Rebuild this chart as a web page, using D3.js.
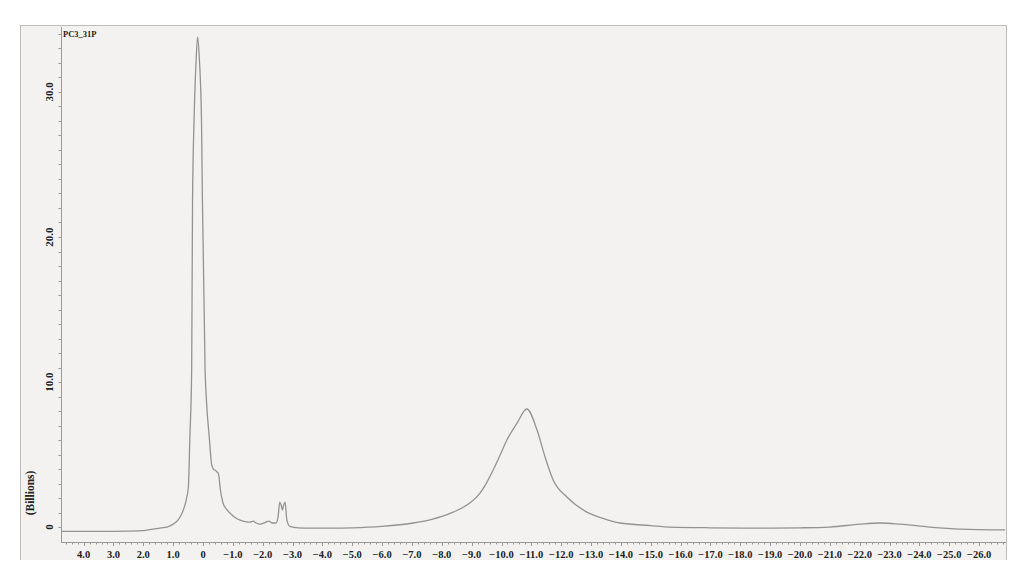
<!DOCTYPE html>
<html>
<head>
<meta charset="utf-8">
<script src="https://cdn.jsdelivr.net/npm/d3@7"></script>
<style>
  html, body { margin: 0; padding: 0; background: #ffffff; }
  svg { display: block; }
  text { font-family: "Liberation Serif", "DejaVu Serif", serif; font-weight: bold; fill: #222; }
</style>
</head>
<body>
<svg id="chart" width="1024" height="584"></svg>
<script>
// ---- data ----
const title = "PC3_31P";
const yAxisLabel = "(Billions)";
const ppm = [4.75, 3.5, 2.5, 2.0, 1.68, 1.4, 1.21, 1.0, 0.84, 0.74, 0.66, 0.56, 0.49, 0.44, 0.38, 0.35, 0.30, 0.23, 0.18,
  0.12, 0.05, 0.02, -0.07, -0.12, -0.21, -0.29, -0.35, -0.42, -0.47, -0.51, -0.54, -0.57, -0.67, -0.78, -0.90, -1.05,
  -1.24, -1.45, -1.57, -1.68, -1.78, -1.91, -2.08, -2.21, -2.31, -2.45, -2.52, -2.57, -2.62, -2.66, -2.70, -2.75, -2.81,
  -2.91, -3.2, -3.58, -4.25, -5.0, -6.0, -7.04, -7.6, -8.38, -8.9, -9.28, -9.5, -9.72, -9.95, -10.18, -10.52, -10.85,
  -11.19, -11.46, -11.73, -12.19, -12.86, -13.4, -13.97, -15.0, -15.64, -17.0, -18.66, -20.0, -21.0, -22.0, -22.7,
  -23.35, -24.35, -25.36, -26.87];
const intensity = [-0.3, -0.3, -0.28, -0.25, -0.14, -0.05, 0.0, 0.2, 0.48, 0.8, 1.17, 1.9, 2.76, 6.2, 10.8, 22.6, 28.0, 32.2, 33.8,
  32.2, 28.0, 22.6, 10.8, 8.55, 6.2, 4.3, 4.0, 3.9, 3.8, 3.72, 3.4, 2.76, 1.66, 1.25, 0.97, 0.7,
  0.48, 0.36, 0.34, 0.41, 0.28, 0.2, 0.31, 0.41, 0.28, 0.28, 0.8, 1.72, 1.5, 1.17, 1.5, 1.72, 0.48,
  0.05, -0.05, -0.07, -0.07, -0.05, 0.05, 0.28, 0.5, 1.03, 1.6, 2.34, 3.05, 3.93, 4.95, 6.0, 7.17, 8.14,
  6.69, 4.83, 3.24, 2.07, 1.03, 0.6, 0.28, 0.1, 0.0, -0.05, -0.07, -0.05, 0.0, 0.2, 0.28,
  0.2, 0.0, -0.14, -0.2];
const xMajorTicks = d3.range(4, -27, -1);
const yMajorTicks = [0, 10, 20, 30];
const xTickLabel = v => v === 0 ? "0" : (v < 0 ? "\u2212" + Math.abs(v).toFixed(1) : v.toFixed(1));
const yTickLabel = v => v === 0 ? "0" : v.toFixed(1);

// ---- layout ----
const svg = d3.select("#chart");
const frame = { left: 20, top: 25, right: 1007, bottom: 560 };
const plot = { left: 61, top: 27, right: 1006, bottom: 542 };

const x = d3.scaleLinear().domain([4.757, -26.9]).range([plot.left, plot.right]);
const y = d3.scaleLinear().domain([-1.03, 34.48]).range([plot.bottom, plot.top]);

// paper background
svg.append("rect")
  .attr("x", frame.left).attr("y", frame.top)
  .attr("width", frame.right - frame.left).attr("height", frame.bottom - frame.top)
  .attr("fill", "#f3f2f0");

// frame lines
const lineCol = "#bdbcb8";
svg.append("line").attr("x1", frame.left).attr("x2", frame.right).attr("y1", frame.top + 0.5).attr("y2", frame.top + 0.5)
  .attr("stroke", lineCol).attr("stroke-width", 1);
svg.append("line").attr("x1", frame.left + 0.5).attr("x2", frame.left + 0.5).attr("y1", frame.top).attr("y2", frame.bottom)
  .attr("stroke", lineCol).attr("stroke-width", 1);
svg.append("line").attr("x1", plot.right + 0.5).attr("x2", plot.right + 0.5).attr("y1", frame.top).attr("y2", frame.bottom)
  .attr("stroke", lineCol).attr("stroke-width", 1);

// y axis
const yAxisG = svg.append("g").attr("transform", `translate(${plot.left},0)`);
yAxisG.append("line").attr("x1", 0.5).attr("x2", 0.5).attr("y1", plot.top).attr("y2", plot.bottom)
  .attr("stroke", "#9a9995").attr("stroke-width", 1);
yAxisG.selectAll("line.minor").data(d3.range(0, 35, 1)).join("line")
  .attr("class", "minor")
  .attr("x1", -2.5).attr("x2", 0.5)
  .attr("y1", d => Math.round(y(d)) + 0.5).attr("y2", d => Math.round(y(d)) + 0.5)
  .attr("stroke", "#9a9995").attr("stroke-width", 1);
yAxisG.selectAll("text.ylab").data(yMajorTicks).join("text")
  .attr("class", "ylab")
  .attr("transform", d => `translate(-8,${y(d)}) rotate(-90)`)
  .attr("text-anchor", "middle")
  .attr("font-size", 11)
  .text(yTickLabel);

// y axis title
svg.append("text")
  .attr("transform", `translate(34,493) rotate(-90)`)
  .attr("text-anchor", "middle")
  .attr("font-size", 11.5)
  .text(yAxisLabel);

// x axis
const xAxisG = svg.append("g").attr("transform", `translate(0,${plot.bottom})`);
xAxisG.append("line").attr("x1", plot.left).attr("x2", plot.right).attr("y1", 0.5).attr("y2", 0.5)
  .attr("stroke", "#9a9995").attr("stroke-width", 1);
const minorX = d3.range(46, -269, -2).map(d => d / 10);
xAxisG.selectAll("line.minor").data(minorX).join("line")
  .attr("class", "minor")
  .attr("x1", d => Math.round(x(d)) + 0.5).attr("x2", d => Math.round(x(d)) + 0.5)
  .attr("y1", 0.5).attr("y2", d => Number.isInteger(d) ? 4 : 2.5)
  .attr("stroke", "#9a9995").attr("stroke-width", 1);
xAxisG.selectAll("text.xlab").data(xMajorTicks).join("text")
  .attr("class", "xlab")
  .attr("x", d => x(d))
  .attr("y", 16)
  .attr("text-anchor", "middle")
  .attr("font-size", 10.5)
  .text(xTickLabel);

// title
svg.append("text").attr("x", 63).attr("y", 37).attr("font-size", 8.5).text(title);

// spectrum line
const pts = ppm.map((p, i) => [p, intensity[i]]);
const line = d3.line().x(d => x(d[0])).y(d => y(d[1])).curve(d3.curveMonotoneX);
svg.append("path")
  .datum(pts)
  .attr("d", line)
  .attr("fill", "none")
  .attr("stroke", "#94938f")
  .attr("stroke-width", 1.3)
  .attr("stroke-linejoin", "round");
</script>
</body>
</html>
